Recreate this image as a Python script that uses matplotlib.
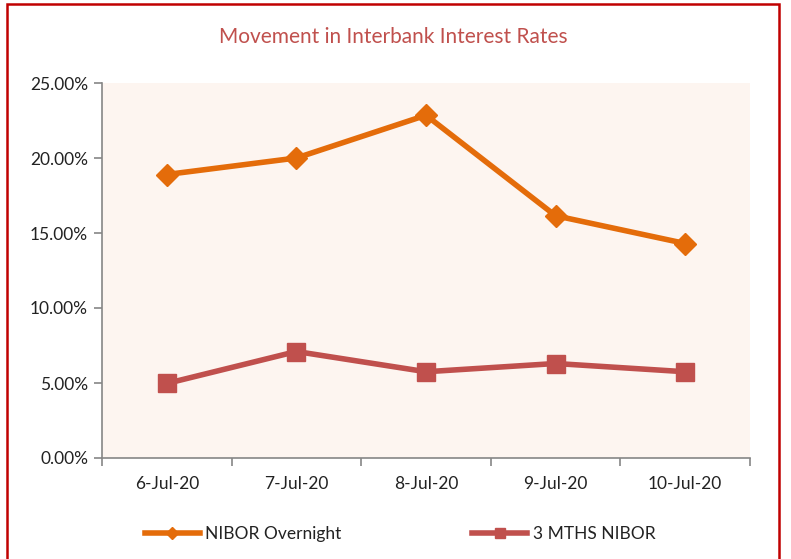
import matplotlib
matplotlib.use("Agg")
import matplotlib.pyplot as plt
from matplotlib.patches import Rectangle
from matplotlib.ticker import FuncFormatter, FixedLocator

dates = ["6-Jul-20", "7-Jul-20", "8-Jul-20", "9-Jul-20", "10-Jul-20"]
nibor_overnight = [18.9, 20.0, 22.85, 16.15, 14.3]
nibor_3m = [4.97, 7.1, 5.75, 6.3, 5.75]
yticks = [0, 5, 10, 15, 20, 25]

plt.rcParams['font.family'] = ['Lato', 'DejaVu Sans']

fig = plt.figure(figsize=(7.91, 5.59), dpi=100)
fig.patch.set_facecolor('white')
fig.patches.append(Rectangle((7/791, -0.05), (779-7)/791, 1.05 - 4/559, transform=fig.transFigure,
                             fill=False, edgecolor='#C00000', linewidth=1.8, zorder=10))

ax = fig.add_axes([102/791, 101/559, 648/791, 375/559])
ax.set_facecolor('#FDF5F0')
x = list(range(len(dates)))
ax.plot(x, nibor_overnight, color='#E46C0A', linewidth=4, marker='D', markersize=11,
        label='NIBOR Overnight', zorder=3)
ax.plot(x, nibor_3m, color='#C0504D', linewidth=4, marker='s', markersize=13,
        label='3 MTHS NIBOR', zorder=3)

ax.set_xlim(-0.5, 4.5)
ax.set_ylim(0, 25)
ax.set_yticks(yticks)
ax.yaxis.set_major_formatter(FuncFormatter(lambda v, p: f"{v:.2f}%"))
ax.set_xticks(x)
ax.set_xticklabels(dates)
ax.xaxis.set_minor_locator(FixedLocator([i - 0.5 for i in range(len(dates) + 1)]))
ax.tick_params(axis='x', which='major', length=0, pad=13, labelsize=12.5, colors='#222222')
ax.tick_params(axis='x', which='minor', length=6, color='#868686', width=1.2)
ax.tick_params(axis='y', length=6, color='#868686', width=1.2, labelsize=12.5, colors='#222222', pad=4)
for s in ['top', 'right']:
    ax.spines[s].set_visible(False)
for s in ['left', 'bottom']:
    ax.spines[s].set_color('#868686')
    ax.spines[s].set_linewidth(1.2)

fig.text(393/791, 1 - 37/559, 'Movement in Interbank Interest Rates', ha='center', va='center',
         fontsize=15, color='#C0504D')

leg = fig.legend(loc='center', bbox_to_anchor=(400/791, 1 - 534/559), ncol=2, frameon=False,
                 fontsize=12.5, handlelength=3.2, columnspacing=7.5, handletextpad=0.3,
                 markerscale=0.6)
for t in leg.get_texts():
    t.set_color('#222222')

fig.savefig('out.png', dpi=100)
